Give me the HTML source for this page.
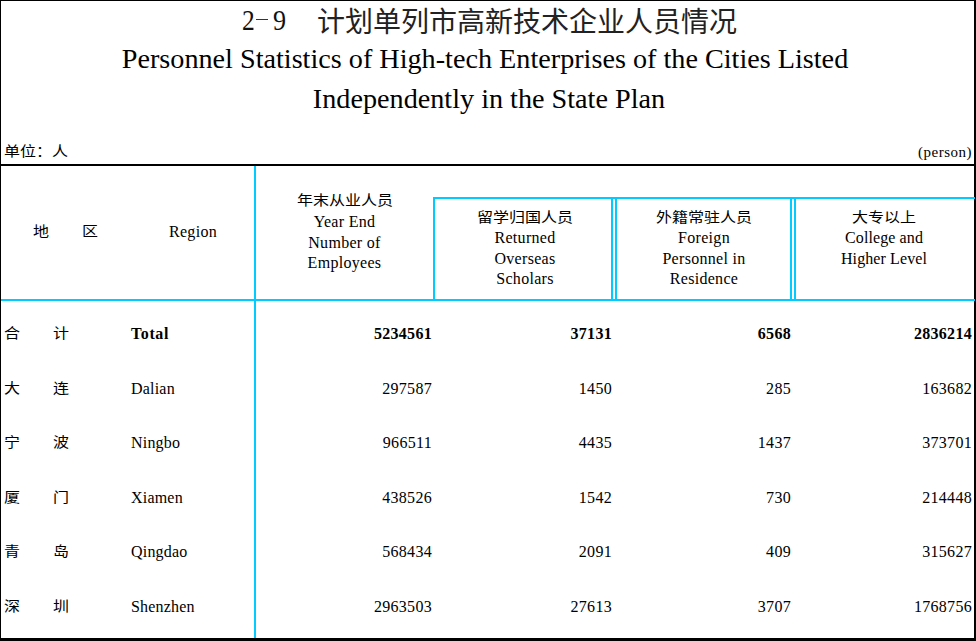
<!DOCTYPE html>
<html lang="zh-CN">
<head>
<meta charset="utf-8">
<style>
html,body{margin:0;padding:0;background:#fff;}
body{width:976px;height:641px;position:relative;overflow:hidden;font-family:"Liberation Serif",serif;color:#000;}
.a{position:absolute;white-space:nowrap;line-height:1;letter-spacing:0.3px;}
.cn,.tc{letter-spacing:0;}
.ln{position:absolute;}
.cn{transform:scaleY(0.87);transform-origin:50% 0;}
.tc{color:#222;}
.b{font-weight:bold;}
</style>
</head>
<body>
<div class="ln" style="left:0px;top:0px;width:976px;height:1px;background:#000"></div>
<div class="ln" style="left:974px;top:0px;width:2px;height:641px;background:#000"></div>
<div class="ln" style="left:0px;top:164px;width:976px;height:2px;background:#000"></div>
<div class="ln" style="left:0px;top:638px;width:976px;height:3px;background:#000"></div>
<div class="ln" style="left:254px;top:166px;width:2px;height:472px;background:#00ccff"></div>
<div class="ln" style="left:0px;top:299px;width:974px;height:2px;background:#00ccff"></div>
<div class="ln" style="left:433px;top:197px;width:541px;height:2px;background:#00ccff"></div>
<div class="ln" style="left:433px;top:197px;width:2px;height:103px;background:#00ccff"></div>
<div class="ln" style="left:611px;top:197px;width:2px;height:103px;background:#00ccff"></div>
<div class="ln" style="left:615px;top:197px;width:2px;height:103px;background:#00ccff"></div>
<div class="ln" style="left:790px;top:197px;width:2px;height:103px;background:#00ccff"></div>
<div class="ln" style="left:794px;top:197px;width:2px;height:103px;background:#00ccff"></div>
<div class="ln" style="left:0px;top:0px;width:1px;height:641px;background:#000"></div>
<div class="ln" style="left:974px;top:197px;width:1px;height:2px;background:#00ccff"></div>
<div class="ln" style="left:974px;top:299px;width:1px;height:2px;background:#00ccff"></div>
<div class="a" style="top:6px;font-size:29px;left:241.5px;transform:scale(0.88,1.05);transform-origin:0 100%;color:#111;">2</div>
<div class="ln" style="left:256px;top:19px;width:12px;height:1px;background:#333"></div>
<div class="a" style="top:6px;font-size:29px;left:273px;transform:scale(0.9,1.05);transform-origin:0 100%;color:#111;">9</div>
<div class="a tc" style="top:9px;font-size:28px;left:317px;">计划单列市高新技术企业人员情况</div>
<div class="a" style="top:45px;font-size:28.2px;left:-15.0px;width:1000px;text-align:center;letter-spacing:0;">Personnel Statistics of High-tech Enterprises of the Cities Listed</div>
<div class="a" style="top:85px;font-size:28.2px;left:-11.0px;width:1000px;text-align:center;letter-spacing:0;">Independently in the State Plan</div>
<div class="a cn" style="top:145px;font-size:16px;left:4px;">单位：人</div>
<div class="a" style="top:145px;font-size:15px;right:4px;text-align:right;letter-spacing:0.5px;">(person)</div>
<div class="a cn" style="top:225px;font-size:16px;left:33px;">地</div>
<div class="a cn" style="top:225px;font-size:16px;left:82px;">区</div>
<div class="a" style="top:224px;font-size:16px;left:169px;">Region</div>
<div class="a cn" style="top:194px;font-size:16px;left:194.5px;width:300px;text-align:center;">年末从业人员</div>
<div class="a" style="top:213.5px;font-size:16px;left:194.5px;width:300px;text-align:center;">Year End</div>
<div class="a" style="top:234.5px;font-size:16px;left:194.5px;width:300px;text-align:center;">Number of</div>
<div class="a" style="top:255px;font-size:16px;left:194.5px;width:300px;text-align:center;">Employees</div>
<div class="a cn" style="top:211px;font-size:16px;left:375.0px;width:300px;text-align:center;">留学归国人员</div>
<div class="a" style="top:230px;font-size:16px;left:375.0px;width:300px;text-align:center;">Returned</div>
<div class="a" style="top:250.5px;font-size:16px;left:375.0px;width:300px;text-align:center;">Overseas</div>
<div class="a" style="top:270.5px;font-size:16px;left:375.0px;width:300px;text-align:center;">Scholars</div>
<div class="a cn" style="top:211px;font-size:16px;left:554.0px;width:300px;text-align:center;">外籍常驻人员</div>
<div class="a" style="top:230px;font-size:16px;left:554.0px;width:300px;text-align:center;">Foreign</div>
<div class="a" style="top:250.5px;font-size:16px;left:554.0px;width:300px;text-align:center;">Personnel in</div>
<div class="a" style="top:270.5px;font-size:16px;left:554.0px;width:300px;text-align:center;">Residence</div>
<div class="a cn" style="top:211px;font-size:16px;left:734.0px;width:300px;text-align:center;letter-spacing:0.1px;">大专以上</div>
<div class="a" style="top:230px;font-size:16px;left:734.0px;width:300px;text-align:center;letter-spacing:0.1px;">College and</div>
<div class="a" style="top:250.5px;font-size:16px;left:734.0px;width:300px;text-align:center;letter-spacing:0.1px;">Higher Level</div>
<div class="a cn" style="top:327.0px;font-size:16px;left:4px;">合</div>
<div class="a cn" style="top:327.0px;font-size:16px;left:53px;">计</div>
<div class="a b" style="top:326.0px;font-size:16px;left:131px;letter-spacing:0.6px;">Total</div>
<div class="a b" style="top:326.0px;font-size:16px;right:544px;text-align:right;letter-spacing:0.3px;">5234561</div>
<div class="a b" style="top:326.0px;font-size:16px;right:364px;text-align:right;letter-spacing:0.3px;">37131</div>
<div class="a b" style="top:326.0px;font-size:16px;right:185px;text-align:right;letter-spacing:0.3px;">6568</div>
<div class="a b" style="top:326.0px;font-size:16px;right:4px;text-align:right;letter-spacing:0.3px;">2836214</div>
<div class="a cn" style="top:381.6px;font-size:16px;left:4px;">大</div>
<div class="a cn" style="top:381.6px;font-size:16px;left:53px;">连</div>
<div class="a" style="top:380.6px;font-size:16px;left:131px;letter-spacing:0.2px;">Dalian</div>
<div class="a" style="top:380.6px;font-size:16px;right:544px;text-align:right;letter-spacing:0.3px;">297587</div>
<div class="a" style="top:380.6px;font-size:16px;right:364px;text-align:right;letter-spacing:0.3px;">1450</div>
<div class="a" style="top:380.6px;font-size:16px;right:185px;text-align:right;letter-spacing:0.3px;">285</div>
<div class="a" style="top:380.6px;font-size:16px;right:4px;text-align:right;letter-spacing:0.3px;">163682</div>
<div class="a cn" style="top:436.2px;font-size:16px;left:4px;">宁</div>
<div class="a cn" style="top:436.2px;font-size:16px;left:53px;">波</div>
<div class="a" style="top:435.2px;font-size:16px;left:131px;letter-spacing:0.2px;">Ningbo</div>
<div class="a" style="top:435.2px;font-size:16px;right:544px;text-align:right;letter-spacing:0.3px;">966511</div>
<div class="a" style="top:435.2px;font-size:16px;right:364px;text-align:right;letter-spacing:0.3px;">4435</div>
<div class="a" style="top:435.2px;font-size:16px;right:185px;text-align:right;letter-spacing:0.3px;">1437</div>
<div class="a" style="top:435.2px;font-size:16px;right:4px;text-align:right;letter-spacing:0.3px;">373701</div>
<div class="a cn" style="top:490.8px;font-size:16px;left:4px;">厦</div>
<div class="a cn" style="top:490.8px;font-size:16px;left:53px;">门</div>
<div class="a" style="top:489.8px;font-size:16px;left:131px;letter-spacing:0.2px;">Xiamen</div>
<div class="a" style="top:489.8px;font-size:16px;right:544px;text-align:right;letter-spacing:0.3px;">438526</div>
<div class="a" style="top:489.8px;font-size:16px;right:364px;text-align:right;letter-spacing:0.3px;">1542</div>
<div class="a" style="top:489.8px;font-size:16px;right:185px;text-align:right;letter-spacing:0.3px;">730</div>
<div class="a" style="top:489.8px;font-size:16px;right:4px;text-align:right;letter-spacing:0.3px;">214448</div>
<div class="a cn" style="top:545.4px;font-size:16px;left:4px;">青</div>
<div class="a cn" style="top:545.4px;font-size:16px;left:53px;">岛</div>
<div class="a" style="top:544.4px;font-size:16px;left:131px;letter-spacing:0.2px;">Qingdao</div>
<div class="a" style="top:544.4px;font-size:16px;right:544px;text-align:right;letter-spacing:0.3px;">568434</div>
<div class="a" style="top:544.4px;font-size:16px;right:364px;text-align:right;letter-spacing:0.3px;">2091</div>
<div class="a" style="top:544.4px;font-size:16px;right:185px;text-align:right;letter-spacing:0.3px;">409</div>
<div class="a" style="top:544.4px;font-size:16px;right:4px;text-align:right;letter-spacing:0.3px;">315627</div>
<div class="a cn" style="top:600.0px;font-size:16px;left:4px;">深</div>
<div class="a cn" style="top:600.0px;font-size:16px;left:53px;">圳</div>
<div class="a" style="top:599.0px;font-size:16px;left:131px;letter-spacing:0.2px;">Shenzhen</div>
<div class="a" style="top:599.0px;font-size:16px;right:544px;text-align:right;letter-spacing:0.3px;">2963503</div>
<div class="a" style="top:599.0px;font-size:16px;right:364px;text-align:right;letter-spacing:0.3px;">27613</div>
<div class="a" style="top:599.0px;font-size:16px;right:185px;text-align:right;letter-spacing:0.3px;">3707</div>
<div class="a" style="top:599.0px;font-size:16px;right:4px;text-align:right;letter-spacing:0.3px;">1768756</div>
</body>
</html>
